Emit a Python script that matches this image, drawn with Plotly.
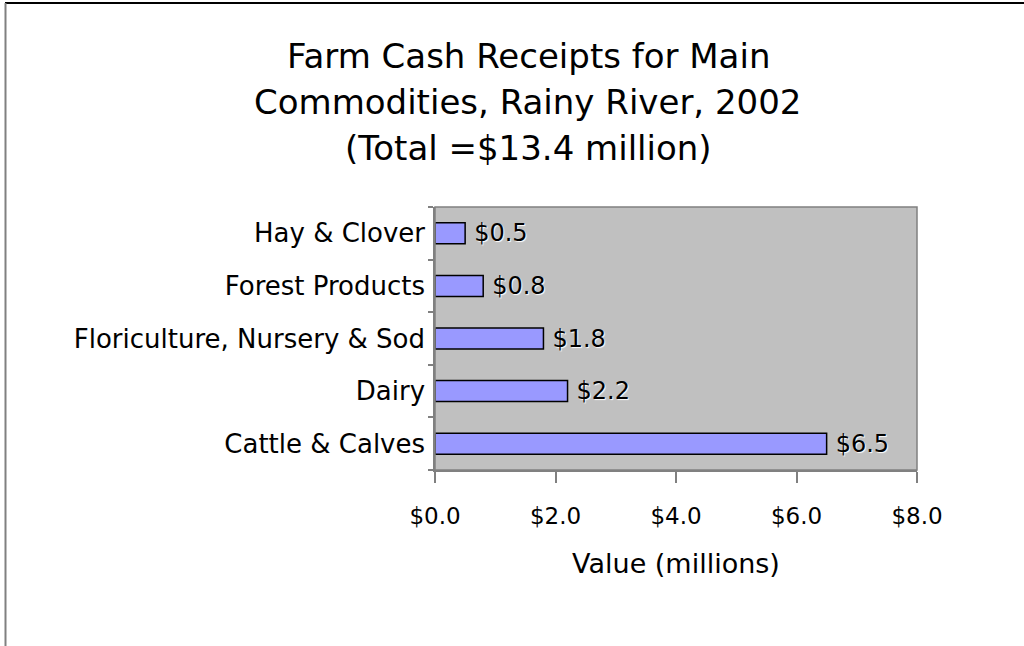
import plotly.graph_objects as go

categories = ["Cattle & Calves", "Dairy", "Floriculture, Nursery & Sod", "Forest Products", "Hay & Clover"]
values = [6.5, 2.2, 1.8, 0.8, 0.5]
title_lines = ["Farm Cash Receipts for Main", "Commodities, Rainy River, 2002", "(Total =$13.4 million)"]
x_tickvals = [0, 2, 4, 6, 8]
x_ticktext = ["$0.0", "$2.0", "$4.0", "$6.0", "$8.0"]
x_title = "Value (millions)"

W, H = 1024, 646
L, R, T, B = 435, 917, 207, 470
FONT = "DejaVu Sans"

def px2x(px):
    return (px - L) / (R - L)

def py2y(py):
    return (B - py) / (B - T)

fig = go.Figure()
fig.add_trace(go.Bar(
    x=values, y=categories, orientation="h",
    marker=dict(color="#9999FF", line=dict(color="black", width=1.5)),
    text=[f"\u2005${v:.1f}" for v in values],
    textposition="outside",
    constraintext="none",
    textfont=dict(family=FONT, size=24, color="black", shadow="1px 1px 1px white"),
    cliponaxis=False,
    width=0.4,
))

annotations = []
for line, py in zip(title_lines, [56, 102, 148]):
    annotations.append(dict(text=line, x=px2x(528), y=py2y(py), xref="paper", yref="paper",
                            showarrow=False, xanchor="center", yanchor="middle",
                            font=dict(family=FONT, size=34, color="black")))

shapes = [
    dict(type="rect", xref="paper", yref="paper", x0=0, x1=1, y0=0, y1=1,
         line=dict(color="#808080", width=1.5), layer="above"),
    dict(type="line", xref="paper", yref="paper", x0=px2x(5), x1=px2x(1030), y0=py2y(3), y1=py2y(3),
         line=dict(color="black", width=2)),
    dict(type="line", xref="paper", yref="paper", x0=px2x(5.5), x1=px2x(5.5), y0=py2y(3), y1=py2y(650),
         line=dict(color="#808080", width=2)),
]

fig.update_layout(
    width=W, height=H,
    margin=dict(l=L, r=W - R, t=T, b=H - B, pad=0),
    paper_bgcolor="white", plot_bgcolor="#C0C0C0",
    showlegend=False,
    annotations=annotations,
    shapes=shapes,
    font=dict(family=FONT, color="black"),
    xaxis=dict(range=[0, 8], tickvals=x_tickvals, ticktext=x_ticktext,
               showgrid=False, zeroline=False, showline=True, linecolor="#808080", linewidth=1.5,
               ticks="outside", ticklen=11, tickcolor="#808080", tickwidth=1.5,
               tickfont=dict(family=FONT, size=23), ticklabelstandoff=14,
               title=dict(text=x_title, font=dict(family=FONT, size=27), standoff=26)),
    yaxis=dict(type="category", categoryorder="array", categoryarray=categories,
               showgrid=False, zeroline=False, showline=True, linecolor="#808080", linewidth=1.5,
               ticks="outside", ticklen=5, tickcolor="#808080", tickwidth=1.5, tickson="boundaries",
               tickfont=dict(family=FONT, size=26), ticklabelstandoff=3),
)

fig.write_html("out.html")
